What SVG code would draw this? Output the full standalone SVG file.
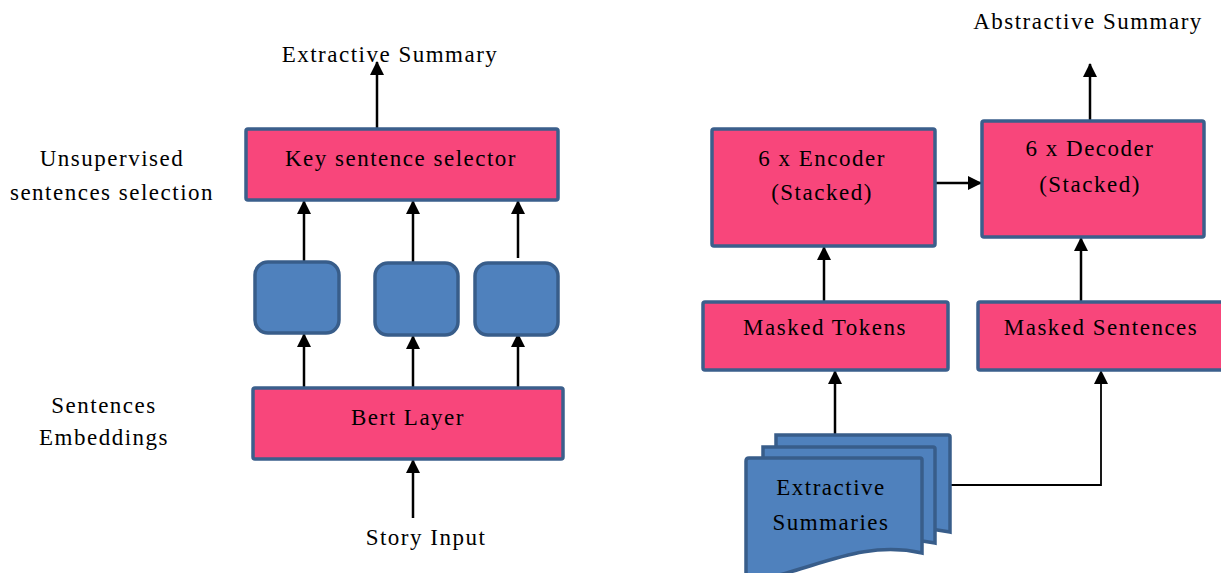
<svg xmlns="http://www.w3.org/2000/svg" width="1221" height="573" viewBox="0 0 1221 573">
<defs>
<style>
.box{fill:#f8467b;stroke:#3b5f8c;stroke-width:3.5}
.blk{fill:#4f81bd;stroke:#385d8a;stroke-width:3.5}
text{font-family:"Liberation Serif","DejaVu Serif",serif;font-size:23px;letter-spacing:1.5px;fill:#000;text-anchor:middle}
.c{stroke:#000;stroke-width:2.5;fill:none}
.c2{stroke:#000;stroke-width:1.8;fill:none}
</style>
<marker id="ah" markerUnits="userSpaceOnUse" markerWidth="14" markerHeight="14" refX="13" refY="7" orient="auto">
<path d="M0,0 L14,7 L0,14 Z" fill="#000"/>
</marker>
</defs>
<g id="connectors">
<line class="c" x1="377" y1="129" x2="377" y2="62" marker-end="url(#ah)"/>
<line class="c" x1="304" y1="262" x2="304" y2="201" marker-end="url(#ah)"/>
<line class="c" x1="413" y1="263" x2="413" y2="201" marker-end="url(#ah)"/>
<line class="c" x1="518" y1="258" x2="518" y2="201" marker-end="url(#ah)"/>
<line class="c" x1="304" y1="388" x2="304" y2="334" marker-end="url(#ah)"/>
<line class="c" x1="413" y1="388" x2="413" y2="336" marker-end="url(#ah)"/>
<line class="c" x1="518" y1="388" x2="518" y2="334" marker-end="url(#ah)"/>
<line class="c" x1="413" y1="518" x2="413" y2="460" marker-end="url(#ah)"/>
<line class="c" x1="1090" y1="121" x2="1090" y2="64" marker-end="url(#ah)"/>
<line class="c" x1="935" y1="183" x2="981" y2="183" marker-end="url(#ah)"/>
<line class="c" x1="824" y1="302" x2="824" y2="247" marker-end="url(#ah)"/>
<line class="c" x1="1081" y1="302" x2="1081" y2="238" marker-end="url(#ah)"/>
<line class="c" x1="835" y1="435" x2="835" y2="371" marker-end="url(#ah)"/>
<polyline class="c2" points="950,485 1101,485 1101,371" marker-end="url(#ah)"/>
</g>
<g id="label-extractive-summary"><text x="390" y="62">Extractive Summary</text></g>
<g id="label-unsupervised"><text x="112" y="166">Unsupervised</text><text x="112" y="200">sentences selection</text></g>
<g id="label-embeddings"><text x="104" y="413">Sentences</text><text x="104" y="445">Embeddings</text></g>
<g id="key-selector"><rect class="box" x="246" y="129" width="312" height="71" rx="2"/><text x="401" y="166">Key sentence selector</text></g>
<g id="emb1"><rect class="blk" x="255" y="262" width="84" height="71" rx="13"/></g>
<g id="emb2"><rect class="blk" x="375" y="263" width="83" height="72" rx="13"/></g>
<g id="emb3"><rect class="blk" x="475" y="263" width="83" height="72" rx="13"/></g>
<g id="bert"><rect class="box" x="253" y="388" width="310" height="71" rx="2"/><text x="408" y="425">Bert Layer</text></g>
<g id="label-story"><text x="426" y="545">Story Input</text></g>
<g id="label-abstractive"><text x="1088" y="29">Abstractive Summary</text></g>
<g id="encoder"><rect class="box" x="712" y="129" width="223" height="117" rx="2"/><text x="822" y="166">6 x Encoder</text><text x="822" y="200">(Stacked)</text></g>
<g id="decoder"><rect class="box" x="982" y="121" width="222" height="116" rx="2"/><text x="1090" y="156">6 x Decoder</text><text x="1090" y="192">(Stacked)</text></g>
<g id="masked-tokens"><rect class="box" x="703" y="302" width="245" height="68" rx="2"/><text x="825" y="335">Masked Tokens</text></g>
<g id="masked-sentences"><rect class="box" x="978" y="302" width="245" height="68" rx="2"/><text x="1101" y="335">Masked Sentences</text></g>
<g id="extractive-summaries">
<path class="blk" d="M776,435 H948 Q950,435 950,437 V532 C900,522 860,538 820,548 L776,548 Z"/>
<path class="blk" d="M763,447 H933 Q935,447 935,449 V543 C885,533 845,549 805,559 L763,559 Z"/>
<path class="blk" d="M749,458 H920 Q922,458 922,460 V553 C872,542 832,560 790,572 C775,577 760,578 746,578 V461 Q746,458 749,458 Z"/>
<text x="831" y="495">Extractive</text><text x="831" y="530">Summaries</text>
</g>
</svg>
